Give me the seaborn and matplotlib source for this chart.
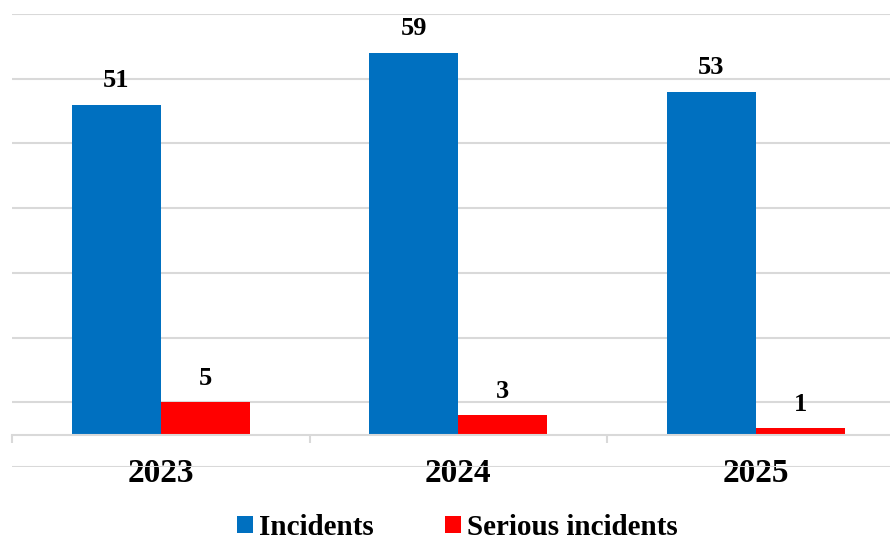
import matplotlib
matplotlib.use("Agg")
import matplotlib.pyplot as plt
import seaborn as sns
import pandas as pd
from matplotlib.ticker import FixedLocator

years = ["2023", "2024", "2025"]
incidents = [51, 59, 53]
serious_incidents = [5, 3, 1]
series_names = ["Incidents", "Serious incidents"]
colors = ["#0070C0", "#FF0000"]

df = pd.DataFrame({
    "year": years * 2,
    "count": incidents + serious_incidents,
    "type": [series_names[0]] * len(years) + [series_names[1]] * len(years),
})

sns.set_theme(style="white")
plt.rcParams["font.family"] = ["Liberation Serif", "DejaVu Serif"]
plt.rcParams["font.weight"] = "bold"

fig = plt.figure(figsize=(8.9, 5.4), dpi=100)
# plot area runs slightly past the right edge of the canvas
ax = fig.add_axes([12 / 890, 73 / 540, 892.5 / 890, 453 / 540])

sns.barplot(data=df, x="year", y="count", hue="type", palette=colors,
            width=0.6, gap=0, saturation=1, linewidth=0, ax=ax, legend=True)

ax.set_ylim(-5, 65)
ax.set_xlim(-0.5, len(years) - 0.5)
ax.set_yticks(range(-5, 66, 10))
ax.yaxis.grid(True, color="#d9d9d9", linewidth=1.5)
ax.set_axisbelow(True)
ax.tick_params(axis="y", left=False, labelleft=False)

for s in ["top", "right", "left"]:
    ax.spines[s].set_visible(False)
ax.spines["bottom"].set_position(("data", 0))
ax.spines["bottom"].set_color("#d9d9d9")
ax.spines["bottom"].set_linewidth(1.5)

# category boundary ticks below the zero line
ax.xaxis.set_minor_locator(FixedLocator([i - 0.5 for i in range(len(years) + 1)]))
ax.tick_params(axis="x", which="minor", bottom=True, length=6, width=1.5,
               color="#d9d9d9", direction="out")
ax.tick_params(axis="x", which="major", bottom=True, length=0, pad=17,
               labelsize=24, labelcolor="black")
for lbl in ax.get_xticklabels():
    lbl.set_fontweight("bold")
ax.set_xlabel("")
ax.set_ylabel("")

for cont in ax.containers:
    ax.bar_label(cont, padding=9, fontsize=19, fontweight="bold", color="black")

handles, labels = ax.get_legend_handles_labels()
leg = ax.legend(handles, labels, loc="center", bbox_to_anchor=(457 / 890, 12.5 / 540),
                bbox_transform=fig.transFigure, ncol=2, frameon=False,
                handlelength=0.55, handleheight=0.55, handletextpad=0.2,
                columnspacing=2.45, prop={"size": 21, "weight": "bold"})
for t in leg.get_texts():
    t.set_color("black")

fig.savefig("out.png", dpi=100)
